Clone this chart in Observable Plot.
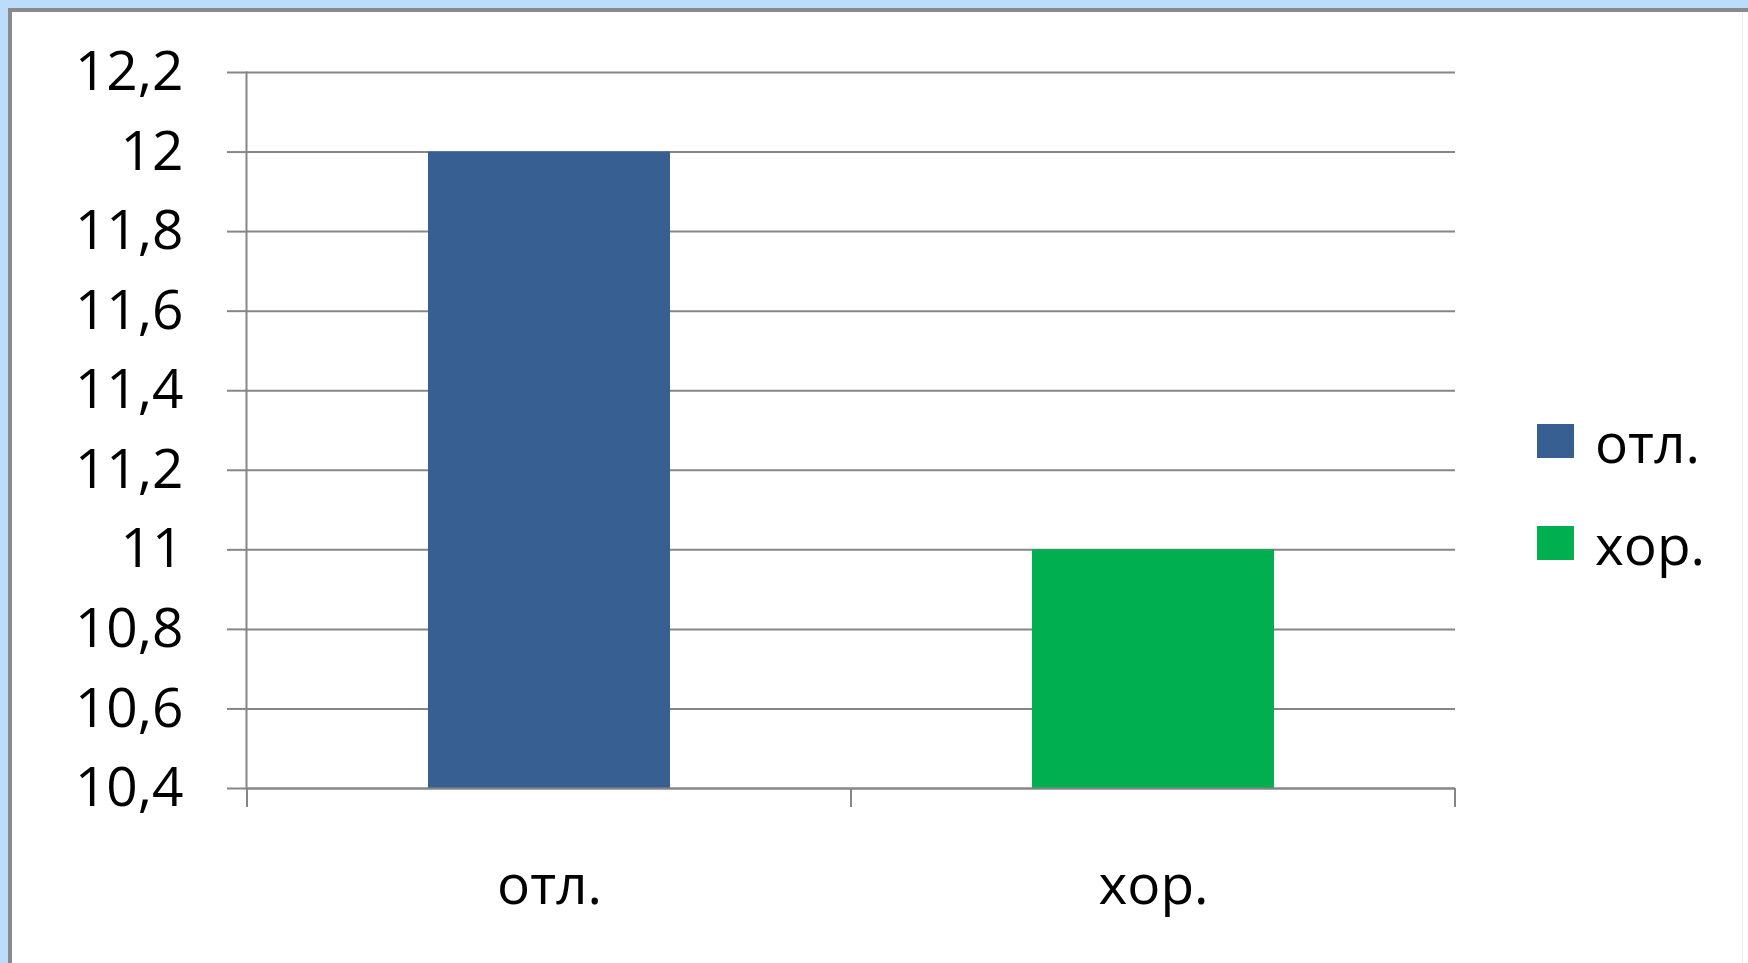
<!DOCTYPE html>
<html>
<head>
<meta charset="utf-8">
<script src="https://cdn.jsdelivr.net/npm/d3@7"></script>
<script src="https://cdn.jsdelivr.net/npm/@observablehq/plot@0.6"></script>
<style>
  html, body { margin: 0; padding: 0; width: 1748px; height: 963px; overflow: hidden; background: #bcdcfc; }
  #panel { position: absolute; left: 8px; top: 8px; width: 1760px; height: 980px; background: #fff;
           border-left: 4px solid #8a8a8a; border-top: 4px solid #8a8a8a; box-sizing: border-box; }
  #edge { position: absolute; left: 1742px; top: 12px; width: 1px; height: 960px; background: #ececec; }
  #chart { position: absolute; left: 0; top: 0; }
  #legend { position: absolute; left: 1537px; top: 390px; }
  .lg-swatches { font-family: "Open Sans", sans-serif; font-size: 55px; color: #000; margin: 0; }
  .lg-swatch { height: 102px; padding: 0; }
  .lg-swatch > svg { margin-right: 21px; }
  .lg-swatch-label { line-height: 1; overflow: visible !important; }
</style>
</head>
<body>
<div id="panel"></div>
<div id="edge"></div>
<div id="chart"></div>
<div id="legend"></div>
<script>
// Data
const categories = ["отл.", "хор."];
const values = [12, 11];
const colors = ["#375f91", "#00b050"];
const yDomain = [10.4, 12.2];
const yTicks = [10.4, 10.6, 10.8, 11, 11.2, 11.4, 11.6, 11.8, 12, 12.2];
const yTickLabels = ["10,4", "10,6", "10,8", "11", "11,2", "11,4", "11,6", "11,8", "12", "12,2"];

const data = categories.map((c, i) => ({cat: c, value: values[i]}));
const gray = "#868686";

// Excel-style category boundary ticks below the axis
function boundaryTicks(index, scales, values, dimensions) {
  const x = scales.x;
  const bw = x.bandwidth ? x.bandwidth() : 0;
  const centers = categories.map(c => x(c) + bw / 2);
  const step = centers.length > 1 ? centers[1] - centers[0] : bw;
  const bounds = centers.map(c => c - step / 2).concat([centers[centers.length - 1] + step / 2]);
  const y0 = dimensions.height - dimensions.marginBottom;
  const g = d3.create("svg:g");
  g.selectAll("line").data(bounds).join("line")
    .attr("x1", d => d).attr("x2", d => d)
    .attr("y1", y0).attr("y2", y0 + 19)
    .attr("stroke", gray).attr("stroke-width", 2);
  return g.node();
}

const chart = Plot.plot({
  width: 1748,
  height: 963,
  marginLeft: 246,
  marginRight: 293,
  marginTop: 72,
  marginBottom: 175,
  style: {background: "transparent", fontFamily: "'Open Sans', sans-serif", fontSize: "55px", color: "#000"},
  x: {domain: categories, paddingInner: 0.6, paddingOuter: 0.3, label: null},
  y: {domain: yDomain, label: null},
  color: {domain: categories, range: colors},
  marks: [
    Plot.gridY(yTicks, {stroke: gray, strokeOpacity: 1, strokeWidth: 2}),
    Plot.barY(data, {x: "cat", y1: () => yDomain[0], y2: "value", fill: "cat"}),
    Plot.gridY([yDomain[0]], {stroke: gray, strokeOpacity: 1, strokeWidth: 2}),
    Plot.frame({anchor: "left", stroke: gray, strokeWidth: 2}),
    Plot.axisY({ticks: yTicks, tickSize: 19, tickPadding: 44, stroke: gray, strokeWidth: 2,
                tickFormat: d => yTickLabels[yTicks.indexOf(d)], label: null,
                style: {letterSpacing: "1.5px"}}),
    Plot.axisX({tickSize: 0, tickPadding: 76, label: null}),
    boundaryTicks
  ]
});
document.getElementById("chart").appendChild(chart);

const legend = Plot.legend({
  color: {domain: categories, range: colors},
  columns: 1,
  swatchWidth: 37,
  swatchHeight: 34,
  className: "lg"
});
document.getElementById("legend").appendChild(legend);
</script>
</body>
</html>
